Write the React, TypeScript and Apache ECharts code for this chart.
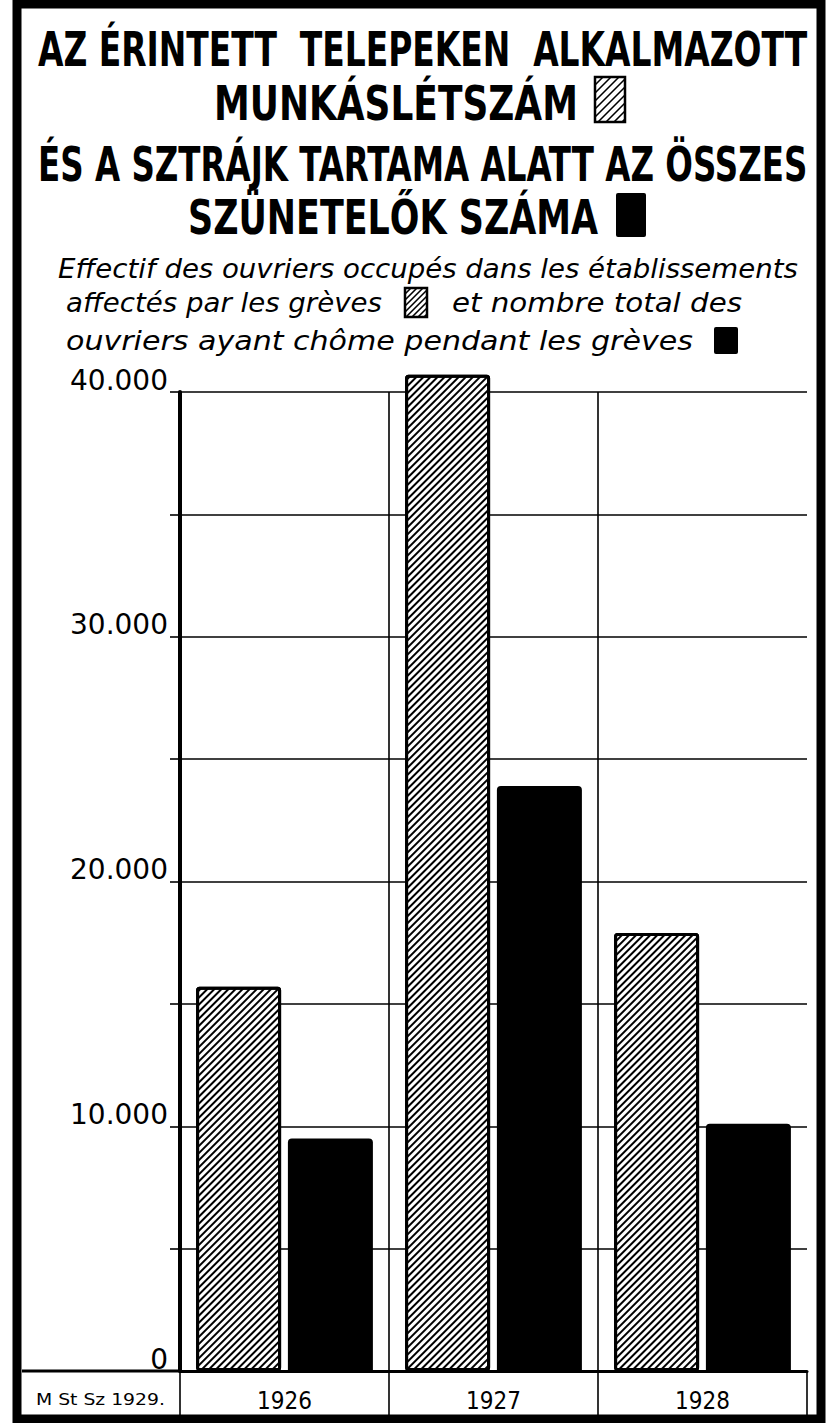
import React, { useEffect, useRef } from "react";
import * as echarts from "echarts";

const categories = ["1926", "1927", "1928"];
const employedWorkers = [15700, 40700, 17900];
const idleWorkers = [9500, 23900, 10100];
const yTickLabels = ["0", "10.000", "20.000", "30.000", "40.000"];

const titleLines = [
  "AZ ÉRINTETT  TELEPEKEN  ALKALMAZOTT",
  "MUNKÁSLÉTSZÁM",
  "ÉS A SZTRÁJK TARTAMA ALATT AZ ÖSSZES",
  "SZÜNETELŐK SZÁMA",
];
const frenchLines = [
  "Effectif des ouvriers occupés dans les établissements",
  "affectés par les grèves",
  "et nombre total des",
  "ouvriers ayant chôme pendant les grèves",
];
const sourceNote = "M St Sz 1929.";

const TITLE_FONT = 'bold 48px "DejaVu Sans Condensed", "DejaVu Sans", sans-serif';
const FR_FONT = 'italic 27px "DejaVu Sans Condensed", "DejaVu Sans", sans-serif';
const NOTE_FONT = '15px "DejaVu Sans Condensed", "DejaVu Sans", sans-serif';

function measure(text: string, font: string): number {
  const ctx = document.createElement("canvas").getContext("2d")!;
  ctx.font = font;
  return ctx.measureText(text).width || 1;
}

function fitText(text: string, font: string, left: number, right: number, yMid: number) {
  const w = measure(text, font);
  return {
    type: "text",
    x: left,
    y: yMid,
    scaleX: (right - left) / w,
    style: { text, font, fill: "#000", textAlign: "left", textVerticalAlign: "middle" },
    z: 10,
  };
}

function hatchedBox(x0: number, y0: number, w: number, h: number, step: number) {
  const children: any[] = [
    { type: "rect", shape: { x: x0, y: y0, width: w, height: h }, style: { fill: "#fff", stroke: "none" } },
  ];
  for (let c = x0 + y0 + step; c < x0 + w + y0 + h; c += step) {
    const xa = Math.max(x0, c - (y0 + h));
    const xb = Math.min(x0 + w, c - y0);
    if (xb > xa) {
      children.push({
        type: "line",
        shape: { x1: xa, y1: c - xa, x2: xb, y2: c - xb },
        style: { stroke: "#000", lineWidth: 1.6 },
      });
    }
  }
  children.push({
    type: "rect",
    shape: { x: x0, y: y0, width: w, height: h },
    style: { fill: "none", stroke: "#000", lineWidth: 2.5 },
  });
  return { type: "group", z: 10, children };
}

export default function App() {
  const ref = useRef<HTMLDivElement>(null);

  useEffect(() => {
    if (!ref.current) return;
    const chart = echarts.init(ref.current, undefined, { renderer: "svg" });

    const graphics: any[] = [
      // outer frame
      {
        type: "rect",
        shape: { x: 17, y: 4, width: 804, height: 1415 },
        style: { fill: "none", stroke: "#000", lineWidth: 9 },
        z: 20,
      },
      fitText(titleLines[0], TITLE_FONT, 38, 808, 49.5),
      fitText(titleLines[1], TITLE_FONT, 214, 578, 103.5),
      fitText(titleLines[2], TITLE_FONT, 38, 808, 164.5),
      fitText(titleLines[3], TITLE_FONT, 188, 598, 217),
      hatchedBox(595, 77, 30, 45, 8),
      { type: "rect", shape: { x: 616, y: 193, width: 30, height: 44, r: 2 }, style: { fill: "#000" }, z: 10 },
      fitText(frenchLines[0], FR_FONT, 58, 798, 269),
      fitText(frenchLines[1], FR_FONT, 66, 382, 303),
      hatchedBox(405, 288, 22, 29, 6),
      fitText(frenchLines[2], FR_FONT, 452, 742, 303),
      fitText(frenchLines[3], FR_FONT, 66, 693, 341),
      { type: "rect", shape: { x: 714, y: 327, width: 24, height: 27, r: 2 }, style: { fill: "#000" }, z: 10 },
      // bottom-left cell
      {
        type: "line",
        shape: { x1: 22, y1: 1371, x2: 180, y2: 1371 },
        style: { stroke: "#000", lineWidth: 3 },
        z: 10,
      },
      fitText(sourceNote, NOTE_FONT, 36, 165, 1400),
    ];

    chart.setOption({
      animation: false,
      backgroundColor: "#fff",
      grid: { left: 180, right: 29, top: 392, bottom: 52, containLabel: false },
      xAxis: {
        type: "category",
        data: categories,
        boundaryGap: true,
        axisLine: { show: true, lineStyle: { color: "#000", width: 3 } },
        axisTick: { show: true, length: 47, inside: false, lineStyle: { color: "#000", width: 1.6 } },
        axisLabel: {
          margin: 18,
          color: "#000",
          fontSize: 24,
          fontFamily: '"DejaVu Sans Condensed", "DejaVu Sans", sans-serif',
        },
        splitLine: {
          show: true,
          showMinLine: false,
          showMaxLine: false,
          lineStyle: { color: "#000", width: 1.6 },
        },
      },
      yAxis: {
        type: "value",
        min: 0,
        max: 40000,
        interval: 5000,
        axisLine: { show: true, lineStyle: { color: "#000", width: 4 } },
        axisTick: { show: true, length: 10, lineStyle: { color: "#000", width: 1.6 } },
        axisLabel: {
          margin: 12,
          color: "#000",
          fontSize: 28,
          fontFamily: '"DejaVu Sans", sans-serif',
          verticalAlign: "bottom",
          lineHeight: 24,
          formatter: (v: number) => (v % 10000 === 0 ? yTickLabels[v / 10000] : ""),
        },
        splitLine: { show: true, lineStyle: { color: "#000", width: 1.6 } },
      },
      series: [
        {
          name: "Munkáslétszám",
          type: "bar",
          data: employedWorkers,
          barWidth: 85,
          barGap: "8%",
          clip: false,
          itemStyle: {
            color: "#fff",
            borderColor: "#000",
            borderWidth: 3,
            borderRadius: 2,
            decal: {
              symbol: "rect",
              symbolSize: 1,
              color: "#000",
              backgroundColor: "#fff",
              dashArrayX: [1, 0],
              dashArrayY: [2, 3],
              rotation: -Math.PI / 4,
            },
          },
        },
        {
          name: "Szünetelők",
          type: "bar",
          data: idleWorkers,
          barWidth: 85,
          clip: false,
          itemStyle: { color: "#000", borderRadius: [4, 4, 0, 0] },
        },
      ],
      graphic: graphics,
    });

    return () => chart.dispose();
  }, []);

  return (
    <div
      ref={ref}
      style={{ position: "fixed", left: 0, top: 0, width: 836, height: 1423, background: "#fff" }}
    />
  );
}
